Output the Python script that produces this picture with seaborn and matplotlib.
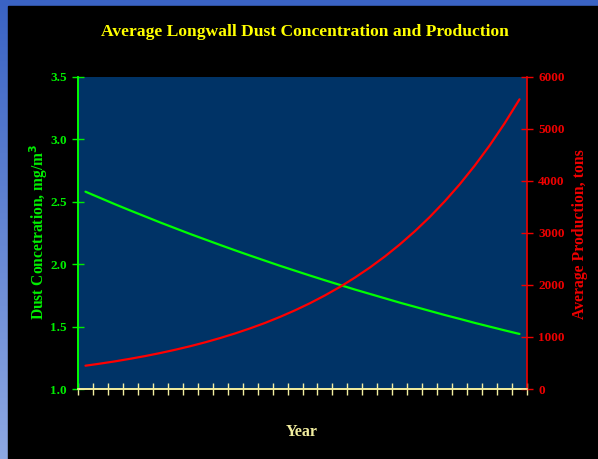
import numpy as np
import pandas as pd
import matplotlib
matplotlib.use("Agg")
import matplotlib.pyplot as plt
import seaborn as sns
from matplotlib.colors import LinearSegmentedColormap

# ---- data ----
years = list(range(30))
dust = [2.581, 2.530, 2.479, 2.430, 2.382, 2.334, 2.288, 2.242, 2.198, 2.154,
        2.111, 2.069, 2.028, 1.987, 1.948, 1.909, 1.871, 1.834, 1.797, 1.762,
        1.727, 1.692, 1.659, 1.626, 1.593, 1.562, 1.530, 1.500, 1.470, 1.441]
production = [448, 489, 533, 582, 634, 692, 755, 823, 898, 980,
              1069, 1166, 1271, 1387, 1513, 1650, 1800, 1963, 2142, 2336,
              2548, 2780, 3032, 3307, 3608, 3935, 4293, 4682, 5108, 5571]
left_ticks = [1.0, 1.5, 2.0, 2.5, 3.0, 3.5]
right_ticks = [0, 1000, 2000, 3000, 4000, 5000, 6000]

df = pd.DataFrame({"year": years, "dust": dust, "production": production})

sns.set_style("dark")
plt.rcParams["font.family"] = ["Liberation Serif", "DejaVu Serif"]
plt.rcParams["font.weight"] = "bold"

W, H = 598, 459
fig = plt.figure(figsize=(W / 100, H / 100), dpi=100)
fig.patch.set_facecolor("black")

# blue frame (gradient) on left and top
bg = fig.add_axes([0, 0, 1, 1], zorder=-10)
cmap = LinearSegmentedColormap.from_list("bl", ["#3a63c4", "#8ea8e2"])
bg.imshow(np.linspace(0, 1, 256).reshape(-1, 1), aspect="auto", cmap=cmap,
          extent=[0, 1, 0, 1], origin="upper")
bg.add_patch(plt.Rectangle((8 / W, 0), 1, (H - 6) / H, color="black"))
bg.set_xlim(0, 1); bg.set_ylim(0, 1)
bg.axis("off")

green = "#00ee00"
red = "#ee0000"
yel = "#f2eea0"

ax = fig.add_axes([78 / W, (H - 389) / H, (527 - 78) / W, (389 - 77) / H])
ax.set_facecolor("#003366")
ax2 = ax.twinx()
ax2.patch.set_visible(False)

sns.lineplot(data=df, x="year", y="dust", ax=ax, color="#00ff00", linewidth=1.6)
sns.lineplot(data=df, x="year", y="production", ax=ax2, color="#ff0000", linewidth=1.6)

ax.set_xlim(-0.5, 29.5)
ax.set_ylim(1.0, 3.5)
ax2.set_ylim(0, 6000)
ax.grid(False); ax2.grid(False)

ax.set_xticks(np.arange(-0.5, 30, 1.0))
ax.set_xticklabels([])
ax.tick_params(axis="x", colors=yel, direction="inout", length=8, width=1, bottom=True)
ax.set_yticks(left_ticks)
ax.set_yticklabels([f"{v:.1f}" for v in left_ticks], color=green, fontsize=9.5, fontweight="bold")
ax.tick_params(axis="y", colors=green, direction="inout", length=8, width=1, left=True, pad=4)
ax2.set_yticks(right_ticks)
ax2.set_yticklabels([str(v) for v in right_ticks], color=red, fontsize=9.5, fontweight="bold")
ax2.tick_params(axis="y", colors=red, direction="inout", length=8, width=1, right=True, pad=4)

for a in (ax, ax2):
    a.spines["top"].set_visible(False)
    a.spines["left"].set_color("#00ff00")
    a.spines["right"].set_color(red)
    a.spines["bottom"].set_color(yel)
    for s in a.spines.values():
        s.set_linewidth(1.2)
ax.spines["right"].set_visible(False)

ax.set_xlabel("")
ax.set_ylabel("")
ax2.set_ylabel("")

fig.text(304.5 / W, 1 - 32 / H, "Average Longwall Dust Concentration and Production",
         ha="center", va="center", color="#ffff00", fontsize=12.6, fontweight="bold")
fig.text(38.5 / W, 1 - 232 / H, "Dust Concetration, mg/m$^\\mathbf{3}$", rotation=90,
         ha="center", va="center", color=green, fontsize=11.2, fontweight="bold")
fig.text(580 / W, 1 - 234 / H, "Average Production, tons", rotation=90,
         ha="center", va="center", color=red, fontsize=11.3, fontweight="bold")
fig.text(302 / W, 1 - 432 / H, "Year", ha="center", va="center", color=yel,
         fontsize=11.5, fontweight="bold")

fig.savefig("out.png", dpi=100, facecolor=fig.get_facecolor())
